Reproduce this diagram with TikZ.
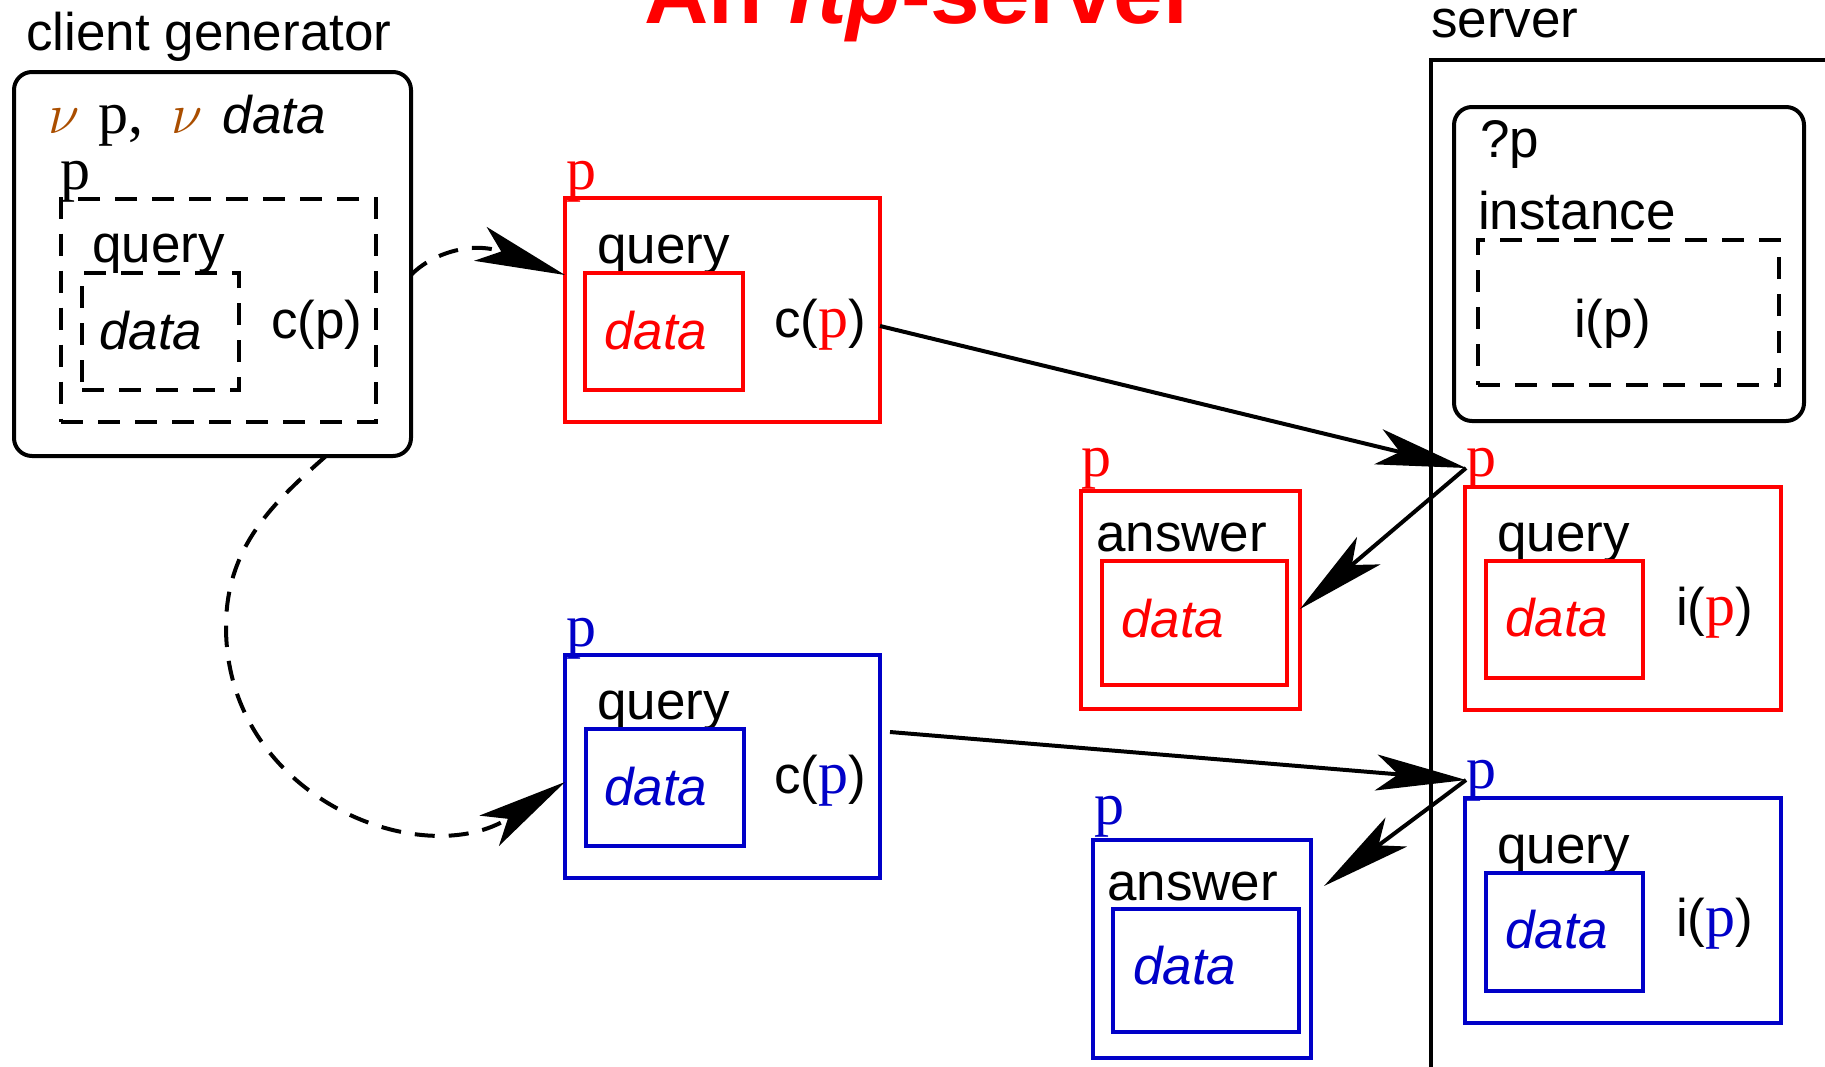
\documentclass[tikz,border=0pt]{standalone}
\usepackage{fontspec}
\setmainfont{Liberation Sans}
\newfontfamily\serf{Liberation Serif}
\usetikzlibrary{arrows.meta}
\definecolor{nubrown}{RGB}{170,78,0}
\definecolor{pblue}{RGB}{0,0,200}

\begin{document}
\begin{tikzpicture}[x=1pt, y=-1pt,
  font=\fontsize{53}{60}\selectfont,
  bx/.style={draw, line width=4pt, inner sep=0pt, outer sep=0pt},
  dbx/.style={bx, dash pattern=on 22pt off 15pt},
  rbx/.style={bx, rounded corners=18pt},
  txt/.style={inner sep=0pt, anchor=base west},
  pl/.style={txt, font=\fontsize{60}{60}\selectfont\serf},
  arr/.style={line width=4pt, -{Stealth[length=90pt, width=36pt, inset=22pt]}}]
\useasboundingbox (0,0) rectangle (1825,1066);
\clip (0,0) rectangle (1825,1066);

\node[txt, anchor=base, text=red, font=\fontsize{89}{100}\selectfont\bfseries] (ttl) at (921,23) {An \textit{ftp}-server};

% client generator
\node[txt] (cg) at (26,50) {client generator};
\node[rbx, minimum width=397pt, minimum height=384pt] (c1) at (212.5,264) {};
\node[txt] (nu) at (48,133) {{\color{nubrown}\scalebox{2.3}{\fontsize{24.88}{30}\selectfont$\nu$}}\hspace{19pt}{\fontsize{60}{60}\selectfont\serf p,}\hspace{28pt}{\color{nubrown}\scalebox{2.3}{\fontsize{24.88}{30}\selectfont$\nu$}}\hspace{20pt}\textit{data}};
\node[pl] (p0) at (60,189) {p};
\node[dbx, minimum width=315pt, minimum height=223pt] (d1) at (218.5,310) {};
\node[txt] (q0) at (92,262) {query};
\node[dbx, minimum width=157pt, minimum height=117pt] (d2) at (160.5,331.5) {};
\node[txt] (t0) at (99,349) {\textit{data}};
\node[txt] (cp0) at (271,338) {c(p)};

% the two queries
\node[pl, text=red] (p1) at (566,189) {p};
\node[bx, draw=red, minimum width=315pt, minimum height=224pt] (q1) at (722.5,310) {};
\node[txt] (q1t) at (597,263) {query};
\node[bx, draw=red, minimum width=158pt, minimum height=117pt] (q1d) at (664,331.5) {};
\node[txt, text=red] (q1a) at (604,349) {\textit{data}};
\node[txt] (q1c) at (774,337) {c({\serf\fontsize{60}{60}\selectfont\color{red}p})};

\node[pl, text=pblue] (p2) at (566,646) {p};
\node[bx, draw=pblue, minimum width=315pt, minimum height=223pt] (q2) at (722.5,766.5) {};
\node[txt] (q2t) at (597,719) {query};
\node[bx, draw=pblue, minimum width=158pt, minimum height=117pt] (q2d) at (665,787.5) {};
\node[txt, text=pblue] (q2a) at (604,805) {\textit{data}};
\node[txt] (q2c) at (774,793) {c({\serf\fontsize{60}{60}\selectfont\color{pblue}p})};

% server
\node[txt] (sv) at (1431,37) {server};
\node[bx, minimum width=469pt, minimum height=1060pt] (srv) at (1665.5,590) {};
\node[rbx, minimum width=350pt, minimum height=314pt] (i1) at (1629,264) {};
\node[txt] (qp) at (1480,157) {?p};
\node[txt] (ins) at (1478,229) {instance};
\node[dbx, minimum width=301pt, minimum height=145pt] (i2) at (1628.5,312.5) {};
\node[txt] (ip) at (1574,337) {i(p)};

\node[pl, text=red] (p3) at (1466,476) {p};
\node[bx, draw=red, minimum width=316pt, minimum height=223pt] (s1) at (1623,598.5) {};
\node[txt] (s1t) at (1497,551) {query};
\node[bx, draw=red, minimum width=157pt, minimum height=117pt] (s1d) at (1564.5,619.5) {};
\node[txt, text=red] (s1a) at (1505,636) {\textit{data}};
\node[txt] (s1c) at (1676,625) {i({\serf\fontsize{60}{60}\selectfont\color{red}p})};

\node[pl, text=pblue] (p4) at (1466,788) {p};
\node[bx, draw=pblue, minimum width=316pt, minimum height=225pt] (s2) at (1623,910.5) {};
\node[txt] (s2t) at (1497,863) {query};
\node[bx, draw=pblue, minimum width=157pt, minimum height=118pt] (s2d) at (1564.5,932) {};
\node[txt, text=pblue] (s2a) at (1505,948) {\textit{data}};
\node[txt] (s2c) at (1676,936) {i({\serf\fontsize{60}{60}\selectfont\color{pblue}p})};

% answers
\node[pl, text=red] (p5) at (1081,476) {p};
\node[bx, draw=red, minimum width=219pt, minimum height=218pt] (a1) at (1190.5,600) {};
\node[txt] (a1t) at (1096,551) {answer};
\node[bx, draw=red, minimum width=185pt, minimum height=124pt] (a1d) at (1194.5,623) {};
\node[txt, text=red] (a1a) at (1121,637) {\textit{data}};

\node[pl, text=pblue] (p6) at (1094,824) {p};
\node[bx, draw=pblue, minimum width=218pt, minimum height=218pt] (a2) at (1202,949) {};
\node[txt] (a2t) at (1107,900) {answer};
\node[bx, draw=pblue, minimum width=186pt, minimum height=123pt] (a2d) at (1206,970.5) {};
\node[txt, text=pblue] (a2a) at (1133,984) {\textit{data}};

\coordinate (sp1) at (1466,468);
\coordinate (sp2) at (1466,780);
\coordinate (lft) at (226,627);

\draw[arr, dash pattern=on 20pt off 14pt] ([yshift=-11pt]c1.east) .. controls (430,255) and (470,240) .. ([yshift=35pt]q1.west);
\draw[dash pattern=on 20pt off 14pt, line width=4pt] ([xshift=113.5pt]c1.south) .. controls (273,503) and (226,547) .. (lft);
\draw[arr, dash pattern=on 20pt off 14pt] (lft) .. controls (226,797) and (422,874) .. ([yshift=-15.5pt]q2.west);
\draw[arr] ([yshift=-16pt]q1.east) -- (sp1);
\draw[arr] (sp1) -- ([yshift=-9pt]a1.east);
\draw[arr] ([xshift=10pt,yshift=34.5pt]q2.east) -- (sp2);
\draw[arr] (sp2) -- ([xshift=13pt,yshift=63pt]a2.east);
\end{tikzpicture}
\end{document}
